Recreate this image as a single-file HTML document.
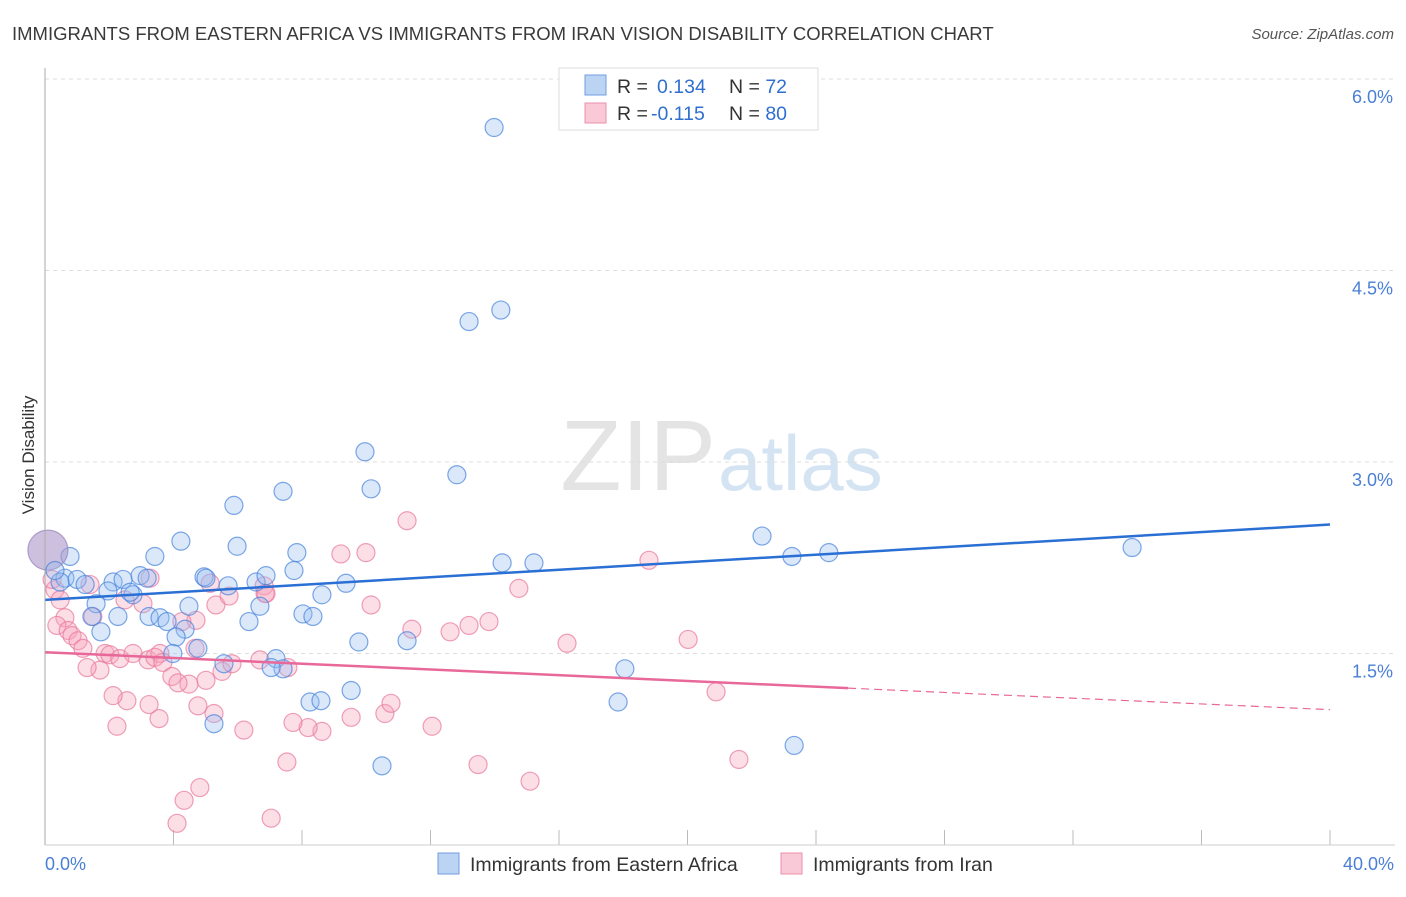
<!DOCTYPE html>
<html><head><meta charset="utf-8"><style>
body{margin:0;background:#fff;font-family:"Liberation Sans",sans-serif;}
svg text{font-family:"Liberation Sans",sans-serif;}
</style></head><body>
<svg id="chart" width="1406" height="892" xmlns="http://www.w3.org/2000/svg">
<text x="12" y="40" font-size="18.5" fill="#3a3a3a">IMMIGRANTS FROM EASTERN AFRICA VS IMMIGRANTS FROM IRAN VISION DISABILITY CORRELATION CHART</text>
<text x="1394" y="39" font-size="15" fill="#555" font-style="italic" text-anchor="end">Source: ZipAtlas.com</text>
<text x="716" y="490" font-size="100" fill="#e4e4e4" text-anchor="end" font-family="Liberation Serif">ZIP</text>
<text x="718" y="490" font-size="78" fill="#d5e4f3">atlas</text>
<text x="34" y="455" font-size="17" fill="#333" text-anchor="middle" transform="rotate(-90 34 455)">Vision Disability</text>
<g id="grid"></g><g id="pts"></g><g id="trend"></g>
<line x1="45" y1="68" x2="45" y2="845" stroke="#aaa"/>
<line x1="45" y1="845" x2="1395" y2="845" stroke="#ccc"/>
<text x="45" y="870" font-size="18" fill="#4a7fd6">0.0%</text>
<text x="1394" y="870" font-size="18" fill="#4a7fd6" text-anchor="end">40.0%</text>
<g>
<rect x="559" y="68" width="259" height="62" fill="#fff" stroke="#ddd"/>
<rect x="585" y="75" width="21" height="20" fill="#bcd4f3" stroke="#6f9ee0"/>
<rect x="585" y="103" width="21" height="20" fill="#f9c9d7" stroke="#ec8fab"/>
<text x="617" y="93" font-size="19.5" fill="#333">R = <tspan x="657" fill="#2f6fd0">0.134</tspan><tspan x="729">N = </tspan><tspan fill="#2f6fd0">72</tspan></text>
<text x="617" y="120" font-size="19.5" fill="#333">R = <tspan x="651" fill="#2f6fd0">-0.115</tspan><tspan x="729">N = </tspan><tspan fill="#2f6fd0">80</tspan></text>
</g>
<g>
<rect x="438" y="853" width="21" height="21" fill="#bcd4f3" stroke="#6f9ee0"/>
<text x="470" y="871" font-size="19.5" fill="#333">Immigrants from Eastern Africa</text>
<rect x="781" y="853" width="21" height="21" fill="#f9c9d7" stroke="#ec8fab"/>
<text x="813" y="871" font-size="19.5" fill="#333">Immigrants from Iran</text>
</g>
</svg>
<script>
const yTicks=[1.5,3.0,4.5,6.0];
const yTickLabels=["1.5%","3.0%","4.5%","6.0%"];
const xTicks=[0,4,8,12,16,20,24,28,32,36,40];
const blueX=[13.98,13.20,14.19,9.96,12.82,10.15,7.41,5.88,4.23,5.98,3.42,7.84,7.75,14.23,15.22,22.32,23.25,24.40,33.84,0.78,0.09,0.62,0.47,1.00,1.25,2.12,2.43,2.96,3.18,4.95,5.01,5.70,6.57,6.88,9.37,8.62,1.96,2.74,1.59,4.48,6.69,8.03,8.34,3.24,3.58,2.27,1.46,6.35,3.80,4.36,4.08,1.74,4.76,9.77,11.27,3.98,5.57,7.19,7.41,7.04,18.05,8.25,8.59,9.53,5.26,17.84,23.32,10.49,2.65,0.31];
const blueY=[5.62,4.10,4.19,3.08,2.90,2.79,2.77,2.66,2.38,2.34,2.26,2.29,2.15,2.21,2.21,2.42,2.26,2.29,2.33,2.26,2.31,2.09,2.06,2.08,2.04,2.06,2.08,2.11,2.09,2.10,2.09,2.03,2.06,2.11,2.05,1.96,1.99,1.96,1.89,1.87,1.87,1.81,1.79,1.79,1.78,1.79,1.79,1.75,1.75,1.69,1.63,1.67,1.54,1.59,1.60,1.50,1.42,1.46,1.38,1.39,1.38,1.12,1.13,1.21,0.95,1.12,0.78,0.62,1.98,2.15];
const pinkX=[11.27,18.80,9.21,9.99,14.75,10.15,13.82,13.20,12.61,11.42,16.25,20.02,20.89,21.60,15.10,13.48,7.53,7.04,4.11,4.33,4.82,12.05,10.58,10.77,9.53,8.62,8.19,7.72,6.19,5.26,4.76,3.55,3.24,2.55,2.12,2.24,0.31,0.22,1.40,3.27,5.14,6.82,6.85,5.32,2.49,3.05,1.49,0.62,0.37,0.72,0.84,1.03,1.18,1.87,2.02,2.33,2.74,3.21,3.58,3.42,3.67,4.67,5.01,4.48,3.95,4.14,1.71,1.31,5.51,5.82,4.70,4.26,5.73,6.69,7.56,6.88,0.47];
const pinkY=[2.54,2.23,2.28,2.29,2.01,1.88,1.75,1.72,1.67,1.69,1.58,1.61,1.20,0.67,0.50,0.63,0.65,0.21,0.17,0.35,0.45,0.93,1.03,1.11,1.00,0.89,0.92,0.96,0.90,1.03,1.09,0.99,1.10,1.13,1.17,0.93,2.00,2.08,2.04,2.09,2.05,2.03,1.97,1.88,1.92,1.89,1.79,1.78,1.72,1.68,1.64,1.60,1.54,1.50,1.49,1.46,1.50,1.45,1.50,1.47,1.43,1.54,1.29,1.26,1.32,1.27,1.37,1.39,1.36,1.42,1.76,1.75,1.95,1.45,1.39,1.97,1.92];
const blueTrend=[1.92,2.51];
const pinkTrend=[1.51,1.06];
const pinkSolidEnd=25;
const NS="http://www.w3.org/2000/svg";
const sx=v=>45+v/40*1285;
const sy=v=>845-v/1.5*191.5;
function mk(t,a,p){const e=document.createElementNS(NS,t);for(const k in a)e.setAttribute(k,a[k]);p.appendChild(e);return e;}
const grid=document.getElementById('grid'),pts=document.getElementById('pts'),tr=document.getElementById('trend'),svg=document.getElementById('chart');
yTicks.forEach((v,i)=>{
 const l=mk('line',{x1:45,x2:1395,y1:sy(v),y2:sy(v),stroke:'#ddd','stroke-dasharray':'4,4'},grid);
 
 
 const t=mk('text',{x:1393,y:sy(v)+24,'font-size':18,fill:'#4a7fd6','text-anchor':'end'},svg);
 t.textContent=yTickLabels[i];
 
 
});
xTicks.forEach(v=>{
 const l=mk('line',{x1:sx(v),x2:sx(v),y1:830,y2:845,stroke:'#bbb'},grid);
 
 
});
pinkX.forEach((x,i)=>{
 const c=mk('circle',{cx:sx(x),cy:sy(pinkY[i]),r:9,fill:'rgba(245,160,185,0.35)',stroke:'rgba(232,120,155,0.7)','stroke-width':1.2},pts);
 
 
});
blueX.forEach((x,i)=>{
 const big=i===20;
 const c=mk('circle',{cx:sx(x),cy:sy(blueY[i]),r:big?20:9,fill:big?'rgba(170,150,200,0.6)':'rgba(150,190,240,0.35)',stroke:big?'rgba(150,130,190,0.7)':'rgba(70,130,220,0.7)','stroke-width':1.2},pts);
 
 
});
const bl=mk('line',{x1:sx(0),y1:sy(blueTrend[0]),x2:sx(40),y2:sy(blueTrend[1]),stroke:'#2a6fd4','stroke-width':2.5},tr);


const pm=pinkTrend[0]+(pinkTrend[1]-pinkTrend[0])*pinkSolidEnd/40;
const pl=mk('line',{x1:sx(0),y1:sy(pinkTrend[0]),x2:sx(pinkSolidEnd),y2:sy(pm),stroke:'#e8689a','stroke-width':2.5},tr);


const pd=mk('line',{x1:sx(pinkSolidEnd),y1:sy(pm),x2:sx(40),y2:sy(pinkTrend[1]),stroke:'#e8689a','stroke-width':1.2,'stroke-dasharray':'8,5'},tr);


</script>
</body></html>
